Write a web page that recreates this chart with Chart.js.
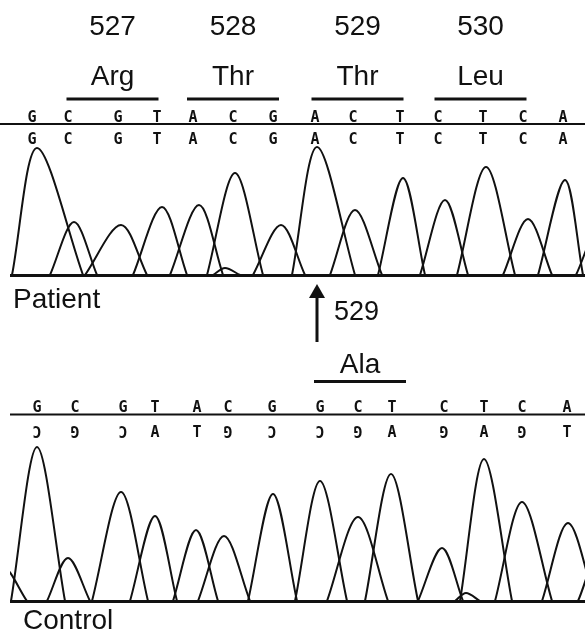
<!DOCTYPE html>
<html><head><meta charset="utf-8">
<script src="https://cdn.jsdelivr.net/npm/chart.js@4/dist/chart.umd.min.js"></script>
<style>
html,body{margin:0;padding:0;background:#fff;width:585px;height:632px;overflow:hidden}
canvas{position:absolute;left:0}
#c1{top:0}
#c2{top:345px}
</style></head><body>
<canvas id="c1" width="585" height="345"></canvas>
<canvas id="c2" width="585" height="287"></canvas>
<script>
// ---------- data ----------
const codonNumbers = ['527', '528', '529', '530'];
const patientAminoAcids = ['Arg', 'Thr', 'Thr', 'Leu'];
const controlAminoAcid = 'Ala';
const codonFirstBase = [1, 4, 7, 10];          // index of first base of each codon
const mutationIndex = 7;                         // base marked by the arrow
const mutationLabel = '529';

const patientBases    = ['G','C','G','T','A','C','G','A','C','T','C','T','C','A'];
const patientBasePos  = [32, 68, 118, 157, 193, 233, 273, 315, 353, 400, 438, 483, 523, 563];
const patientPeakPos    = [37, 74, 121, 162, 199, 235, 281, 317, 355, 403, 445, 486, 528, 565, 225, 605];
const patientPeakHeight = [127, 53, 50, 68, 70, 102, 50, 128, 65, 97, 75, 108, 56, 95, 7, 60];
const patientPeakLeft   = [12, 50, 85, 133, 170, 207, 253, 292, 330, 378, 420, 457, 503, 538, 213, 576];
const patientPeakRight  = [83, 97, 147, 187, 223, 263, 305, 355, 382, 425, 468, 515, 552, 583, 240, 630];

const controlBases      = ['G','C','G','T','A','C','G','G','C','T','C','T','C','A'];
// lower (printed inverted) row: letter and whether it is shown turned upside down
const controlLowerBases = ['C','G','C','A','T','G','C','C','G','A','G','A','G','T'];
const controlLowerTurned= [true,true,true,false,false,true,true,true,true,false,true,false,true,false];
const controlBasePos    = [37, 75, 123, 155, 197, 228, 272, 320, 358, 392, 444, 484, 522, 567];
const controlPeakPos    = [37, 68, 121, 155, 196, 224, 273, 320, 358, 391, 442, 484, 522, 568, 2, 605, 466];
const controlPeakHeight = [154, 43, 109, 85, 71, 65, 107, 120, 84, 127, 53, 142, 99, 78, 35, 60, 8];
const controlPeakLeft   = [11, 47, 92, 130, 173, 198, 248, 295, 327, 365, 418, 460, 495, 542, -20, 578, 455];
const controlPeakRight  = [65, 90, 148, 177, 218, 250, 297, 347, 388, 418, 463, 512, 552, 595, 27, 640, 480];

// ---------- helpers ----------
const FONT = '"Liberation Sans", Arial, sans-serif';
const MONO = '"DejaVu Sans Mono", monospace';
const HALF_CAP = 5.5;

function peakDatasets(pos, h, l, r) {
  return pos.map((p, i) => ({
    data: [{x: l[i], y: 0}, {x: p, y: h[i]}, {x: r[i], y: 0}],
    borderColor: '#111',
    borderWidth: 2,
    pointRadius: 0,
    tension: 0.32,
    fill: false
  }));
}

function baseOptions(yMax, padTop, padBottom) {
  return {
    responsive: false,
    animation: false,
    devicePixelRatio: 1,
    layout: {padding: {left: 10, right: 0, top: padTop, bottom: padBottom}},
    plugins: {legend: {display: false}, tooltip: {enabled: false}},
    scales: {
      x: {type: 'linear', min: 10, max: 585, display: false},
      y: {type: 'linear', min: 0, max: yMax, display: false}
    }
  };
}

function codonCenter(chart, posArr, c) {
  const s = codonFirstBase[c];
  const x = chart.scales.x;
  return (x.getPixelForValue(posArr[s]) + x.getPixelForValue(posArr[s + 2])) / 2;
}

function drawBaseline(chart) {
  const ctx = chart.ctx, y = chart.scales.y.getPixelForValue(0);
  ctx.fillStyle = '#111';
  ctx.fillRect(chart.chartArea.left, y - 1, chart.width - chart.chartArea.left, 3);
}

function drawBase(ctx, letter, x, cy, turned) {
  ctx.save();
  ctx.translate(x, cy);
  if (turned) ctx.rotate(Math.PI);
  ctx.fillText(letter, 0, HALF_CAP);
  ctx.restore();
}

// ---------- patient panel ----------
const patientPlugin = {
  id: 'patientText',
  afterDatasetsDraw(chart) {
    const ctx = chart.ctx, xs = chart.scales.x;
    ctx.save();
    ctx.fillStyle = '#111';
    ctx.textAlign = 'center';
    ctx.textBaseline = 'alphabetic';
    ctx.font = '28px ' + FONT;
    for (let c = 0; c < 4; c++) {
      const cx = codonCenter(chart, patientBasePos, c);
      ctx.fillText(codonNumbers[c], cx, 35);
      ctx.fillText(patientAminoAcids[c], cx, 85);
      ctx.fillRect(cx - 46, 97.5, 92, 3);
    }
    // base calls
    ctx.font = 'bold 15px ' + MONO;
    patientBases.forEach((b, i) => {
      const px = xs.getPixelForValue(patientBasePos[i]);
      drawBase(ctx, b, px, 116, false);
      drawBase(ctx, b, px, 138, false);
    });
    ctx.fillRect(0, 123, chart.width, 2);
    drawBaseline(chart);
    // labels below
    ctx.textAlign = 'left';
    ctx.font = '28px ' + FONT;
    ctx.fillText('Patient', 13, 308);
    const ax = xs.getPixelForValue(patientPeakPos[mutationIndex]);
    ctx.fillRect(ax - 1.5, 292, 3, 50);
    ctx.beginPath();
    ctx.moveTo(ax, 284); ctx.lineTo(ax - 8, 298); ctx.lineTo(ax + 8, 298); ctx.closePath();
    ctx.fill();
    ctx.font = '27px ' + FONT;
    ctx.fillText(mutationLabel, ax + 17, 320);
    ctx.restore();
  }
};

new Chart(document.getElementById('c1'), {
  type: 'line',
  data: {datasets: peakDatasets(patientPeakPos, patientPeakHeight, patientPeakLeft, patientPeakRight)},
  options: baseOptions(151, 124, 70),
  plugins: [patientPlugin]
});

// ---------- control panel ----------
const controlPlugin = {
  id: 'controlText',
  afterDatasetsDraw(chart) {
    const ctx = chart.ctx, xs = chart.scales.x;
    ctx.save();
    ctx.fillStyle = '#111';
    ctx.textAlign = 'center';
    ctx.textBaseline = 'alphabetic';
    ctx.font = '28px ' + FONT;
    const cx = codonCenter(chart, controlBasePos, 2) + 4;
    ctx.fillText(controlAminoAcid, cx, 28);
    ctx.fillRect(cx - 46, 35, 92, 3);
    ctx.font = 'bold 15px ' + MONO;
    controlBases.forEach((b, i) => {
      const px = xs.getPixelForValue(controlBasePos[i]);
      drawBase(ctx, b, px, 61, false);
      drawBase(ctx, controlLowerBases[i], px, 86, controlLowerTurned[i]);
    });
    ctx.fillRect(10, 68.5, chart.width - 10, 2);
    drawBaseline(chart);
    ctx.textAlign = 'left';
    ctx.font = '28px ' + FONT;
    ctx.fillText('Control', 23, 284);
    ctx.restore();
  }
};

new Chart(document.getElementById('c2'), {
  type: 'line',
  data: {datasets: peakDatasets(controlPeakPos, controlPeakHeight, controlPeakLeft, controlPeakRight)},
  options: baseOptions(187, 69, 31),
  plugins: [controlPlugin]
});
</script>
</body></html>
